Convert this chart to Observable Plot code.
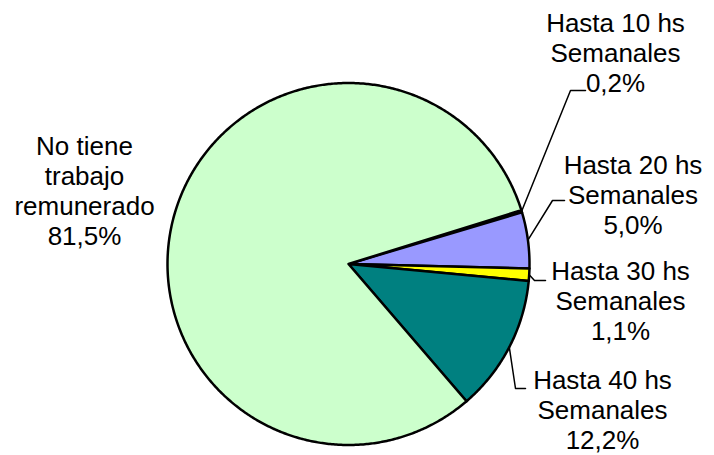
<!DOCTYPE html>
<html><head><meta charset="utf-8">
<script src="https://cdn.jsdelivr.net/npm/d3@7"></script>
<script src="https://cdn.jsdelivr.net/npm/@observablehq/plot@0.6"></script>
<style>body{margin:0;background:#fff;overflow:hidden}</style>
</head><body><div id="chart"></div>
<script>
// ---- data ----
const categories = ["Hasta 10 hs Semanales", "Hasta 20 hs Semanales", "Hasta 30 hs Semanales", "Hasta 40 hs Semanales", "No tiene trabajo remunerado"];
const labelLines = [["Hasta 10 hs", "Semanales"], ["Hasta 20 hs", "Semanales"], ["Hasta 30 hs", "Semanales"], ["Hasta 40 hs", "Semanales"], ["No tiene", "trabajo", "remunerado"]];
const values = [0.2, 5.0, 1.1, 12.2, 81.5];
const colors = ["#111111", "#9999FF", "#FFFF00", "#008080", "#CCFFCC"];

// ---- layout ----
const W = 714, H = 455, cx = 348, cy = 263.5, R = 181, startDeg = 72.7;
const labelPos = [[615, 91], [632.5, 233], [620, 339], [602, 448], [84, 244]]; // center x, last baseline (px)
const leaderPts = [[[570, 90], [585, 90]], [[552, 200], [564, 200]], [[534, 280], [545, 280]], [[515, 388], [525, 388]], null];

const toX = px => (px - cx) / R, toY = py => (cy - py) / R;
const total = d3.sum(values);
const fmt = v => v.toFixed(1).replace(".", ",") + "%";

let acc = 0;
const slices = values.map((v, i) => {
  const a0 = startDeg + acc / total * 360;
  acc += v;
  const a1 = startDeg + acc / total * 360;
  const pts = [{x: 0, y: 0}];
  const n = Math.max(2, Math.ceil((a1 - a0) / 0.5));
  for (let k = 0; k <= n; k++) {
    const a = (a0 + (a1 - a0) * k / n) * Math.PI / 180;
    pts.push({x: Math.sin(a), y: Math.cos(a)});
  }
  return {name: categories[i], pts, mid: (a0 + a1) / 2 * Math.PI / 180, color: colors[i]};
});

const labelData = values.map((v, i) => ({
  text: [...labelLines[i], fmt(v)].join("\n"),
  x: toX(labelPos[i][0]), y: toY(labelPos[i][1])
}));

const leaders = [];
slices.forEach((s, i) => {
  if (!leaderPts[i]) return;
  const line = [{x: Math.sin(s.mid), y: Math.cos(s.mid)}, ...leaderPts[i].map(([px, py]) => ({x: toX(px), y: toY(py)}))];
  leaders.push(line);
});

const chart = Plot.plot({
  width: W, height: H, margin: 0,
  x: {domain: [toX(0), toX(W)], range: [0, W], axis: null},
  y: {domain: [toY(H), toY(0)], range: [H, 0], axis: null},
  style: {background: "#fff"},
  marks: [
    ...slices.map(s => Plot.line(s.pts, {x: "x", y: "y", curve: "linear-closed", fill: s.color, stroke: "#000", strokeWidth: 2.5, strokeLinejoin: "round"})),
    ...leaders.map(l => Plot.line(l, {x: "x", y: "y", stroke: "#000", strokeWidth: 1.5})),
    Plot.text(labelData, {x: "x", y: "y", text: "text", lineAnchor: "bottom", lineHeight: 30 / 26, fontSize: 26, fontFamily: "'Liberation Sans', Arial, sans-serif", fill: "#000", textAnchor: "middle"})
  ]
});
document.getElementById("chart").append(chart);
</script>
</body></html>
